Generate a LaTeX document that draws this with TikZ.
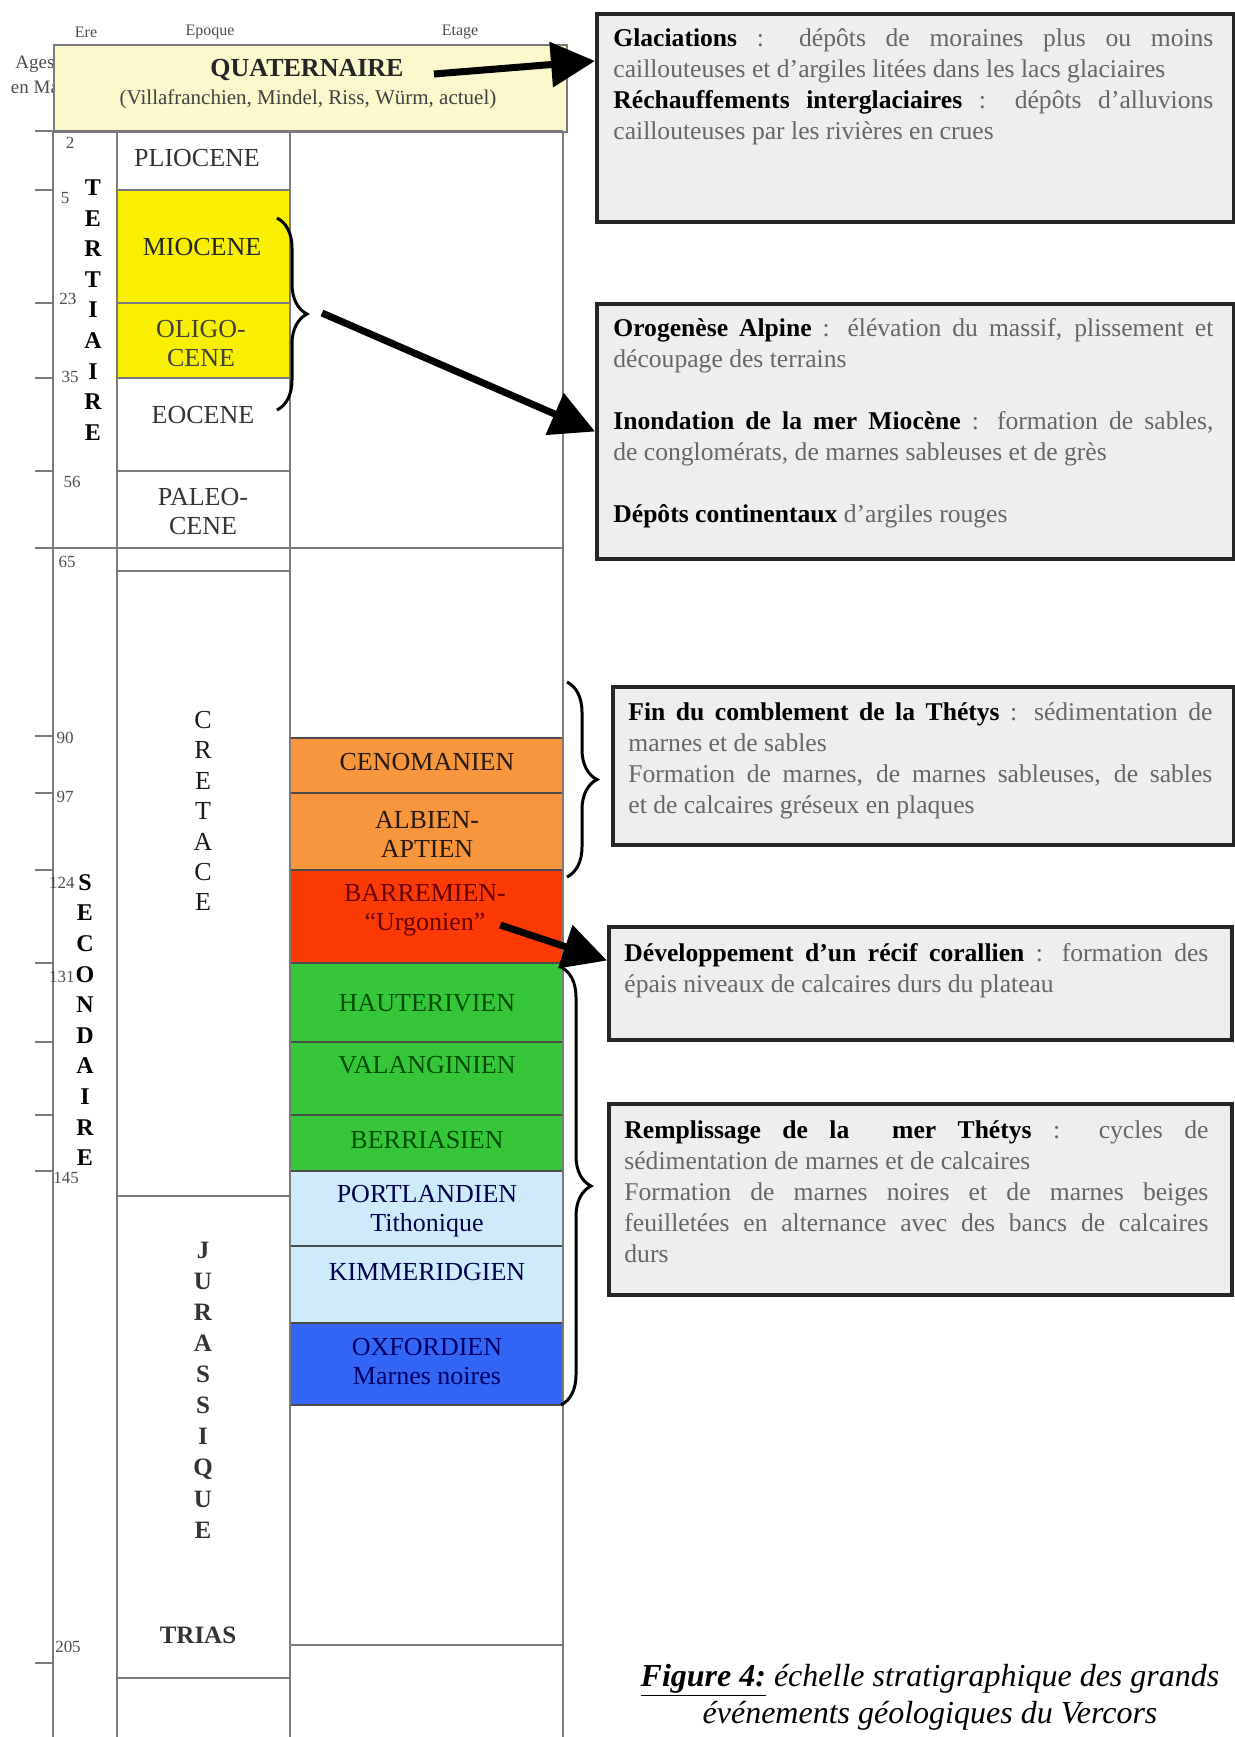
\documentclass[tikz,border=0pt]{standalone}
\usepackage{fontspec}
\setmainfont{Liberation Serif}
\usetikzlibrary{arrows.meta,decorations.pathreplacing}

\definecolor{quatyellow}{HTML}{FBF8CB}
\definecolor{tertyellow}{HTML}{F8F000}
\definecolor{cretorange}{HTML}{F7963C}
\definecolor{urgored}{HTML}{FC3A05}
\definecolor{neogreen}{HTML}{36C63A}
\definecolor{jurablue}{HTML}{CDEBFB}
\definecolor{oxfblue}{HTML}{3366F5}
\definecolor{boxgrey}{HTML}{EEEEEE}
\definecolor{gridgrey}{HTML}{7A7A7A}

\newcommand{\evhead}[1]{{\color{black}\bfseries #1}}

\begin{document}
\begin{tikzpicture}[
		x=0.5pt, y=-0.5pt,
		grid/.style={gridgrey, line width=0.8pt},
		hdr/.style={font=\fontsize{8}{9}\selectfont, text=black!70, inner sep=0pt},
		stage/.style={font=\fontsize{13}{14.5}\selectfont, text=black!80, align=center, inner sep=1pt},
		agelbl/.style={font=\fontsize{8.5}{9}\selectfont, text=black!70, inner sep=0pt},
		erelbl/.style={font=\bfseries\fontsize{12}{15.3}\selectfont, align=center, inner sep=0pt},
		evbox/.style={draw=black!85, line width=2pt, fill=boxgrey, anchor=north west},
		evtext/.style={anchor=north west, align=justify, inner sep=0pt, font=\fontsize{12.8}{15.5}\selectfont, text=black!60},
		bigarrow/.style={line width=3.5pt, -{Triangle[length=22pt,width=22pt]}},
		bracket/.style={decorate, decoration={brace, amplitude=15pt}, line width=1.5pt}
	]
	\useasboundingbox (0,0) rectangle (1235,1737);

	% column heads
	\node[hdr] (hera) at (86,32) {Ere};
	\node[hdr] (hepoque) at (210,32) {Epoque};
	\node[hdr] (hetage) at (460,32) {Etage};
	\node[hdr, font=\fontsize{9.5}{12.5}\selectfont, align=center] (agesma) at (35,75) {Ages\\en Ma};

	% quaternaire
	\node[draw=gridgrey, line width=0.8pt, fill=quatyellow, minimum width=256.5pt, minimum height=43.5pt, anchor=north west] (quatbox) at (53,44) {};
	\node[font=\bfseries\fontsize{13}{15}\selectfont, text=black!85, inner sep=1pt] (quat) at (307,70) {QUATERNAIRE};
	\node[font=\fontsize{10.5}{12}\selectfont, text=black!75, inner sep=0pt] (quatsub) at (308,99) {(Villafranchien, Mindel, Riss, Würm, actuel)};

	% coloured cells
	\fill[tertyellow] (117,190) rectangle (290,378);
	\foreach \ya/\yb/\col in {738/793/cretorange, 793/870/cretorange, 870/963/urgored,
			963/1042/neogreen, 1042/1115/neogreen, 1115/1171/neogreen,
			1171/1246/jurablue, 1246/1323/jurablue, 1323/1405/oxfblue}
		\filldraw[fill=\col, draw=black!70, line width=0.8pt] (290,\ya) rectangle (563,\yb);

	% table lines
	\draw[grid] (53,131) -- (53,1737);
	\draw[grid] (117,131) -- (117,1737);
	\draw[grid] (290,131) -- (290,1737);
	\draw[grid] (563,131) -- (563,1737);
	\draw[grid] (35,131) -- (563,131);
	\draw[grid] (35,548) -- (563,548);
	\foreach \yy in {190,303,378,471,571,1196,1678}
		\draw[grid] (117,\yy) -- (290,\yy);
	\draw[grid] (290,1645) -- (563,1645);
	\foreach \yy in {190,303,378,471,736,793,870,963,1042,1115,1171,1663}
		\draw[grid] (35,\yy) -- (53,\yy);

	% ages
	\foreach \xx/\yy/\age [count=\i] in {70/143/2, 65/198/5, 68/299/23, 70/377/35, 72/482/56, 67/562/65,
			65/738/90, 65/797/97, 62/883/124, 62/977/131, 66/1178/145, 68/1647/205}
		\node[agelbl] (age\i) at (\xx,\yy) {\age};

	% eres and epoques
	\node[erelbl] (tert) at (93,310) {T\\E\\R\\T\\I\\A\\I\\R\\E};
	\node[erelbl] (second) at (85,1020) {S\\E\\C\\O\\N\\D\\A\\I\\R\\E};
	\node[erelbl, font=\fontsize{13}{15.2}\selectfont, text=black!90] (cret) at (203,811) {C\\R\\E\\T\\A\\C\\E};
	\node[erelbl, font=\bfseries\fontsize{12.5}{15.55}\selectfont, text=black!80] (jura) at (203,1390) {J\\U\\R\\A\\S\\S\\I\\Q\\U\\E};
	\node[stage, font=\bfseries\fontsize{12.5}{14}\selectfont] (trias) at (198,1635) {TRIAS};

	\node[stage] (plio) at (197,158) {PLIOCENE};
	\node[stage, text=black!85] (mio) at (202,247) {MIOCENE};
	\node[stage, text=black!75] (oligo) at (201,344) {OLIGO-\\CENE};
	\node[stage] (eoc) at (203,415) {EOCENE};
	\node[stage] (paleo) at (203,512) {PALEO-\\CENE};

	% etages
	\node[stage, text=black!80!brown] (ceno) at (427,762) {CENOMANIEN};
	\node[stage, text=black!80!brown] (albien) at (427,834) {ALBIEN-\\APTIEN};
	\node[stage, text=black!60!red] (barr) at (425,910) {BARREMIEN-\\“Urgonien”};
	\node[stage, text=black!70!green] (haut) at (427,1003) {HAUTERIVIEN};
	\node[stage, text=black!70!green] (valang) at (427,1065) {VALANGINIEN};
	\node[stage, text=black!70!green] (berr) at (427,1140) {BERRIASIEN};
	\node[stage, text=black!70!blue] (portl) at (427,1211) {PORTLANDIEN\\Tithonique};
	\node[stage, text=black!70!blue] (kimm) at (427,1272) {KIMMERIDGIEN};
	\node[stage, text=black!60!blue] (oxf) at (427,1361) {OXFORDIEN\\Marnes noires};

	% event boxes
	\node[evbox, minimum width=318.5pt, minimum height=104pt] (glac) at (595,12) {};
	\node[evtext, text width=300pt] (glactxt) at (613,28) {\evhead{Glaciations} : dépôts de moraines plus ou moins\linebreak caillouteuses et d'argiles litées dans les lacs glaciaires\\\evhead{Réchauffements interglaciaires} : dépôts d'alluvions\linebreak caillouteuses par les rivières en crues};

	\node[evbox, minimum width=318.5pt, minimum height=127.5pt] (oro) at (595,302) {};
	\node[evtext, text width=300pt] (orotxt) at (613,318) {\evhead{Orogenèse Alpine} : élévation du massif, plissement et\linebreak découpage des terrains\\[15.5pt]\evhead{Inondation de la mer Miocène} : formation de sables,\linebreak de conglomérats, de marnes sableuses et de grès\\[15.5pt]\evhead{Dépôts continentaux} d'argiles rouges};

	\node[evbox, minimum width=310.5pt, minimum height=79pt] (comb) at (611,685) {};
	\node[evtext, text width=292pt] (combtxt) at (628,702) {\evhead{Fin du comblement de la Thétys} : sédimentation de\linebreak marnes et de sables\\Formation de marnes, de marnes sableuses, de sables\linebreak et de calcaires gréseux en plaques};

	\node[evbox, minimum width=311.5pt, minimum height=56.5pt] (recif) at (607,925) {};
	\node[evtext, text width=292pt] (reciftxt) at (624,943) {\evhead{Développement d'un récif corallien} : formation des\linebreak épais niveaux de calcaires durs du plateau};

	\node[evbox, minimum width=311.5pt, minimum height=95.5pt] (rempl) at (607,1102) {};
	\node[evtext, text width=292pt] (rempltxt) at (624,1120) {\evhead{Remplissage de la \ mer Thétys} : cycles de\linebreak sédimentation de marnes et de calcaires\\Formation de marnes noires et de marnes beiges\linebreak feuilletées en alternance avec des bancs de calcaires\linebreak durs};

	% braces and arrows
	\draw[bracket] (277,218) -- (277,410);
	\draw[bracket] (567,682) -- (567,877);
	\draw[bracket] (561,967) -- (561,1405);
	\coordinate (tbr) at (322,313);

	\draw[bigarrow] ([xshift=14pt,yshift=-2pt]quat.east) -- ([yshift=-24.5pt]glac.north west);
	\draw[bigarrow] (tbr) -- (oro.west);
	\draw[bigarrow] ([xshift=-4pt,yshift=-7.5pt]barr.east) -- ([yshift=11.5pt]recif.west);

	% caption
	\node[font=\fontsize{16}{18.5}\selectfont\itshape, align=center, inner sep=0pt] (caption) at (930,1697) {\underline{\textbf{Figure 4:}} échelle stratigraphique des grands\\événements géologiques du Vercors};
\end{tikzpicture}
\end{document}
